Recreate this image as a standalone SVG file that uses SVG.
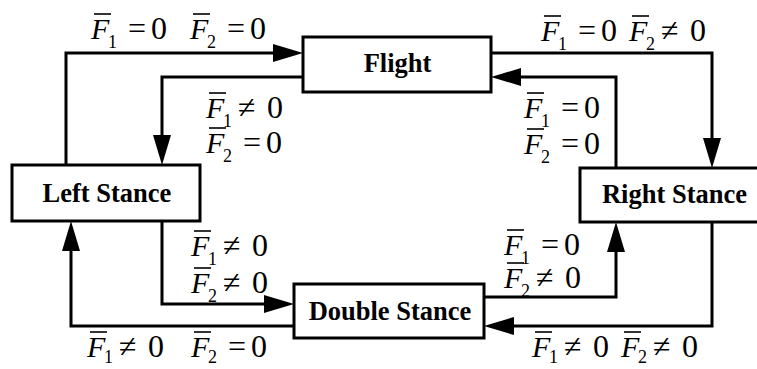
<svg xmlns="http://www.w3.org/2000/svg" width="757" height="369" viewBox="0 0 757 369">
<style>
.box{fill:#fff;stroke:#000;stroke-width:3}
.nt{font-family:"Liberation Serif","Times New Roman",serif;font-weight:bold;font-size:26.5px;text-anchor:middle;fill:#000}
.c{fill:none;stroke:#000;stroke-width:3}
.m{font-family:"Liberation Serif","Times New Roman",serif;fill:#000}
.f{font-style:italic;font-size:30px}
.s{font-size:18px}
.o{font-size:32px}
.ol{stroke:#000;stroke-width:1.6}
</style>
<defs>
<marker id="ah" markerUnits="userSpaceOnUse" markerWidth="30" markerHeight="18" refX="22" refY="9" orient="auto">
<path d="M0,0 L30,9 L0,18 Z" fill="#000"/>
</marker>
</defs>
<g id="connectors">
<path class="c" marker-end="url(#ah)" d="M66,165 V53 H295"/>
<path class="c" marker-end="url(#ah)" d="M303,77 H162 V157"/>
<path class="c" marker-end="url(#ah)" d="M491,53 H712 V160"/>
<path class="c" marker-end="url(#ah)" d="M616,168 V77 H499"/>
<path class="c" marker-end="url(#ah)" d="M162,221 V304 H286"/>
<path class="c" marker-end="url(#ah)" d="M294,326 H71 V229"/>
<path class="c" marker-end="url(#ah)" d="M484,297 H616 V230"/>
<path class="c" marker-end="url(#ah)" d="M712,222 V326 H492"/>
</g>
<g id="flight"><rect class="box" x="303" y="37" width="188" height="55"/><text class="nt" x="397.5" y="72">Flight</text></g>
<g id="left-stance"><rect class="box" x="12" y="165" width="188" height="56"/><text class="nt" x="107" y="202">Left Stance</text></g>
<g id="right-stance"><rect class="box" x="580" y="168" width="190" height="54"/><text class="nt" x="674.5" y="203">Right Stance</text></g>
<g id="double-stance"><rect class="box" x="294" y="284" width="190" height="54"/><text class="nt" x="390" y="320">Double Stance</text></g>
<g id="labels" class="m">
<text y="39"><tspan class="f" x="91">F</tspan><tspan class="s" x="108" y="48">1</tspan><tspan class="o" x="128" y="39">=</tspan><tspan class="o" x="151">0</tspan></text>
<line class="ol" x1="94" x2="111" y1="14" y2="14"/>
<text y="39"><tspan class="f" x="190">F</tspan><tspan class="s" x="207" y="48">2</tspan><tspan class="o" x="227" y="39">=</tspan><tspan class="o" x="250">0</tspan></text>
<line class="ol" x1="193" x2="210" y1="14" y2="14"/>

<text y="118"><tspan class="f" x="206">F</tspan><tspan class="s" x="223" y="127">1</tspan><tspan class="o" x="238" y="118">≠</tspan><tspan class="o" x="267">0</tspan></text>
<line class="ol" x1="209" x2="226" y1="93" y2="93"/>
<text y="153"><tspan class="f" x="206">F</tspan><tspan class="s" x="223" y="162">2</tspan><tspan class="o" x="243" y="153">=</tspan><tspan class="o" x="266">0</tspan></text>
<line class="ol" x1="209" x2="226" y1="128" y2="128"/>

<text y="41"><tspan class="f" x="541">F</tspan><tspan class="s" x="558" y="50">1</tspan><tspan class="o" x="578" y="41">=</tspan><tspan class="o" x="601">0</tspan></text>
<line class="ol" x1="544" x2="561" y1="16" y2="16"/>
<text y="41"><tspan class="f" x="629">F</tspan><tspan class="s" x="646" y="50">2</tspan><tspan class="o" x="661" y="41">≠</tspan><tspan class="o" x="690">0</tspan></text>
<line class="ol" x1="632" x2="649" y1="16" y2="16"/>

<text y="118"><tspan class="f" x="524">F</tspan><tspan class="s" x="541" y="127">1</tspan><tspan class="o" x="561" y="118">=</tspan><tspan class="o" x="584">0</tspan></text>
<line class="ol" x1="527" x2="544" y1="93" y2="93"/>
<text y="154"><tspan class="f" x="524">F</tspan><tspan class="s" x="541" y="163">2</tspan><tspan class="o" x="561" y="154">=</tspan><tspan class="o" x="584">0</tspan></text>
<line class="ol" x1="527" x2="544" y1="129" y2="129"/>

<text y="256"><tspan class="f" x="191">F</tspan><tspan class="s" x="208" y="265">1</tspan><tspan class="o" x="223" y="256">≠</tspan><tspan class="o" x="252">0</tspan></text>
<line class="ol" x1="194" x2="211" y1="231" y2="231"/>
<text y="293"><tspan class="f" x="191">F</tspan><tspan class="s" x="208" y="302">2</tspan><tspan class="o" x="223" y="293">≠</tspan><tspan class="o" x="252">0</tspan></text>
<line class="ol" x1="194" x2="211" y1="268" y2="268"/>

<text y="255"><tspan class="f" x="504">F</tspan><tspan class="s" x="521" y="264">1</tspan><tspan class="o" x="541" y="255">=</tspan><tspan class="o" x="564">0</tspan></text>
<line class="ol" x1="507" x2="524" y1="230" y2="230"/>
<text y="288"><tspan class="f" x="504">F</tspan><tspan class="s" x="521" y="297">2</tspan><tspan class="o" x="536" y="288">≠</tspan><tspan class="o" x="565">0</tspan></text>
<line class="ol" x1="507" x2="524" y1="263" y2="263"/>

<text y="357"><tspan class="f" x="87">F</tspan><tspan class="s" x="104" y="363">1</tspan><tspan class="o" x="119" y="357">≠</tspan><tspan class="o" x="148">0</tspan></text>
<line class="ol" x1="90" x2="107" y1="332" y2="332"/>
<text y="357"><tspan class="f" x="191">F</tspan><tspan class="s" x="208" y="363">2</tspan><tspan class="o" x="228" y="357">=</tspan><tspan class="o" x="251">0</tspan></text>
<line class="ol" x1="194" x2="211" y1="332" y2="332"/>

<text y="357"><tspan class="f" x="532">F</tspan><tspan class="s" x="549" y="363">1</tspan><tspan class="o" x="564" y="357">≠</tspan><tspan class="o" x="593">0</tspan></text>
<line class="ol" x1="535" x2="552" y1="332" y2="332"/>
<text y="357"><tspan class="f" x="621">F</tspan><tspan class="s" x="638" y="363">2</tspan><tspan class="o" x="653" y="357">≠</tspan><tspan class="o" x="682">0</tspan></text>
<line class="ol" x1="624" x2="641" y1="332" y2="332"/>
</g>
</svg>
